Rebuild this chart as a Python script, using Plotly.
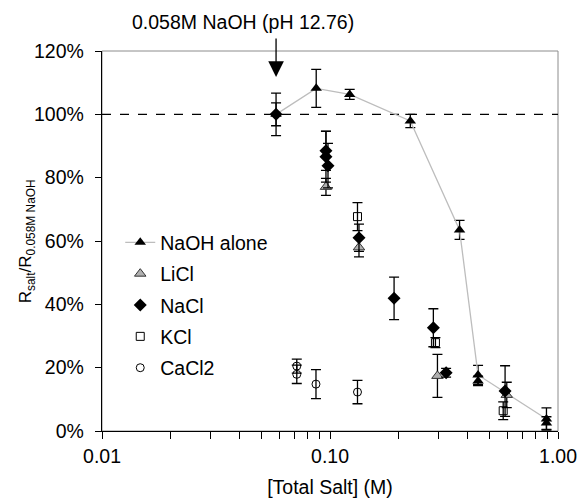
import math
import plotly.graph_objects as go

# Salt concentration (M) vs normalised response (%), with +/- error
naoh_x = [0.058, 0.087, 0.122, 0.225, 0.37, 0.446, 0.89]
naoh_y = [100.0, 108.2, 106.3, 97.9, 63.5, 17.7, 3.8]
naoh_err = [3.6, 6.0, 1.6, 2.1, 3.0, 3.0, 3.5]

naoh_rep_x = [0.446, 0.89]
naoh_rep_y = [15.8, 2.5]
naoh_rep_err = [1.5, 2.0]

licl_x = [0.096, 0.134, 0.296, 0.596]
licl_y = [77.1, 58.0, 17.4, 11.4]
licl_err = [2.7, 3.0, 6.8, 4.0]

nacl_x = [0.058, 0.096, 0.096, 0.098, 0.134, 0.191, 0.284, 0.323, 0.586]
nacl_y = [100.0, 88.5, 86.6, 83.8, 61.0, 41.9, 32.6, 18.4, 12.6]
nacl_err = [6.7, 6.2, 8.0, 7.0, 4.3, 6.7, 6.0, 1.4, 8.0]

kcl_x = [0.132, 0.29, 0.575]
kcl_y = [67.7, 27.9, 6.4]
kcl_err = [4.4, 1.6, 2.8]

cacl2_x = [0.0715, 0.0715, 0.0868, 0.132]
cacl2_y = [20.5, 17.9, 14.8, 12.3]
cacl2_err = [2.2, 2.9, 4.6, 3.7]

y_ticks = [0, 20, 40, 60, 80, 100, 120]
x_ticks = [0.01, 0.1, 1.0]
x_tick_text = ["0.01", "0.10", "1.00"]
x_minor = [k * 10.0 ** e for e in (-2, -1) for k in range(2, 10)]

ref_x = 0.058
annot_text = "0.058M NaOH (pH 12.76)"
y_title = "R<sub>salt</sub>/R<sub>0.058M NaOH</sub>"

FONT = "Liberation Sans, Arial, sans-serif"
FS = 19.5
PAD = "\u00a0\u200a"  # small gap between y tick labels and ticks


def err(vals):
    return dict(type="data", array=vals, visible=True, color="black",
                thickness=1.3, width=5)


fig = go.Figure()

fig.add_trace(go.Scatter(
    x=naoh_x, y=naoh_y, mode="lines+markers", name="NaOH alone",
    line=dict(color="#bdbdbd", width=1.3),
    marker=dict(symbol="triangle-up", size=10, color="black"),
    error_y=err(naoh_err), legendgroup="a"))
fig.add_trace(go.Scatter(
    x=naoh_rep_x, y=naoh_rep_y, mode="markers", showlegend=False,
    marker=dict(symbol="triangle-up", size=10, color="black"),
    error_y=err(naoh_rep_err), legendgroup="a"))
fig.add_trace(go.Scatter(
    x=licl_x, y=licl_y, mode="markers", name="LiCl",
    marker=dict(symbol="triangle-up", size=10, color="#b0b0b0",
                line=dict(color="#333333", width=1)),
    error_y=err(licl_err), legendgroup="b"))
fig.add_trace(go.Scatter(
    x=nacl_x, y=nacl_y, mode="markers", name="NaCl",
    marker=dict(symbol="diamond", size=10, color="black"),
    error_y=err(nacl_err), legendgroup="c"))
fig.add_trace(go.Scatter(
    x=kcl_x, y=kcl_y, mode="markers", name="KCl",
    marker=dict(symbol="square-open", size=8, color="black",
                line=dict(width=1)),
    error_y=err(kcl_err), legendgroup="d"))
fig.add_trace(go.Scatter(
    x=cacl2_x, y=cacl2_y, mode="markers", name="CaCl2",
    marker=dict(symbol="circle-open", size=8, color="black",
                line=dict(width=1)),
    error_y=err(cacl2_err), legendgroup="e"))

# grey frame on top/right, dashed 100% reference
fig.add_shape(type="rect", xref="paper", yref="paper", x0=0, x1=1, y0=0, y1=1,
              line=dict(color="#8c8c8c", width=1), layer="below")
fig.add_shape(type="line", xref="paper", yref="y", x0=0, x1=1, y0=100, y1=100,
              line=dict(color="black", width=1.3, dash="dash"), layer="below")

# arrow marking the reference NaOH concentration
fig.add_annotation(x=math.log10(ref_x), y=111.8, xref="x", yref="y",
                   text="", showarrow=True, arrowhead=2, arrowsize=2.4,
                   arrowwidth=1.3, arrowcolor="black", ax=0, ay=-40)
fig.add_annotation(x=0.309, y=1.076, xref="paper", yref="paper",
                   xanchor="center", yanchor="middle", text=annot_text,
                   showarrow=False, font=dict(size=FS, color="black", family=FONT))

# rotated y-axis title
fig.add_annotation(x=-0.164, y=0.5, xref="paper", yref="paper",
                   xanchor="center", yanchor="middle", textangle=-90,
                   text=y_title, showarrow=False,
                   font=dict(size=17, color="black", family=FONT))

fig.update_layout(
    width=582, height=502,
    margin=dict(l=102, r=24, t=51, b=71),
    paper_bgcolor="white", plot_bgcolor="white",
    font=dict(family=FONT, size=FS, color="black"),
    showlegend=True,
    legend=dict(x=0.04, y=0.547, xanchor="left", yanchor="top",
                bgcolor="rgba(0,0,0,0)", tracegroupgap=3,
                font=dict(size=FS, family=FONT)),
    xaxis=dict(type="log", range=[-2, 0], tickvals=x_ticks, ticktext=x_tick_text,
               showgrid=False, zeroline=False, showline=True, linecolor="black",
               linewidth=1.3, ticks="outside", ticklen=7, tickcolor="black",
               automargin=False,
               minor=dict(tickvals=x_minor, ticks="outside", ticklen=7,
                          tickcolor="black", showgrid=False),
               title=dict(text="[Total Salt] (M)", font=dict(size=FS), standoff=14)),
    yaxis=dict(range=[0, 120], tickvals=y_ticks,
               ticktext=[f"{v}%{PAD}" for v in y_ticks],
               showgrid=False, zeroline=False, showline=True, linecolor="black",
               linewidth=1.3, ticks="outside", ticklen=6, tickcolor="black",
               automargin=False),
)

fig.write_html("out.html")
